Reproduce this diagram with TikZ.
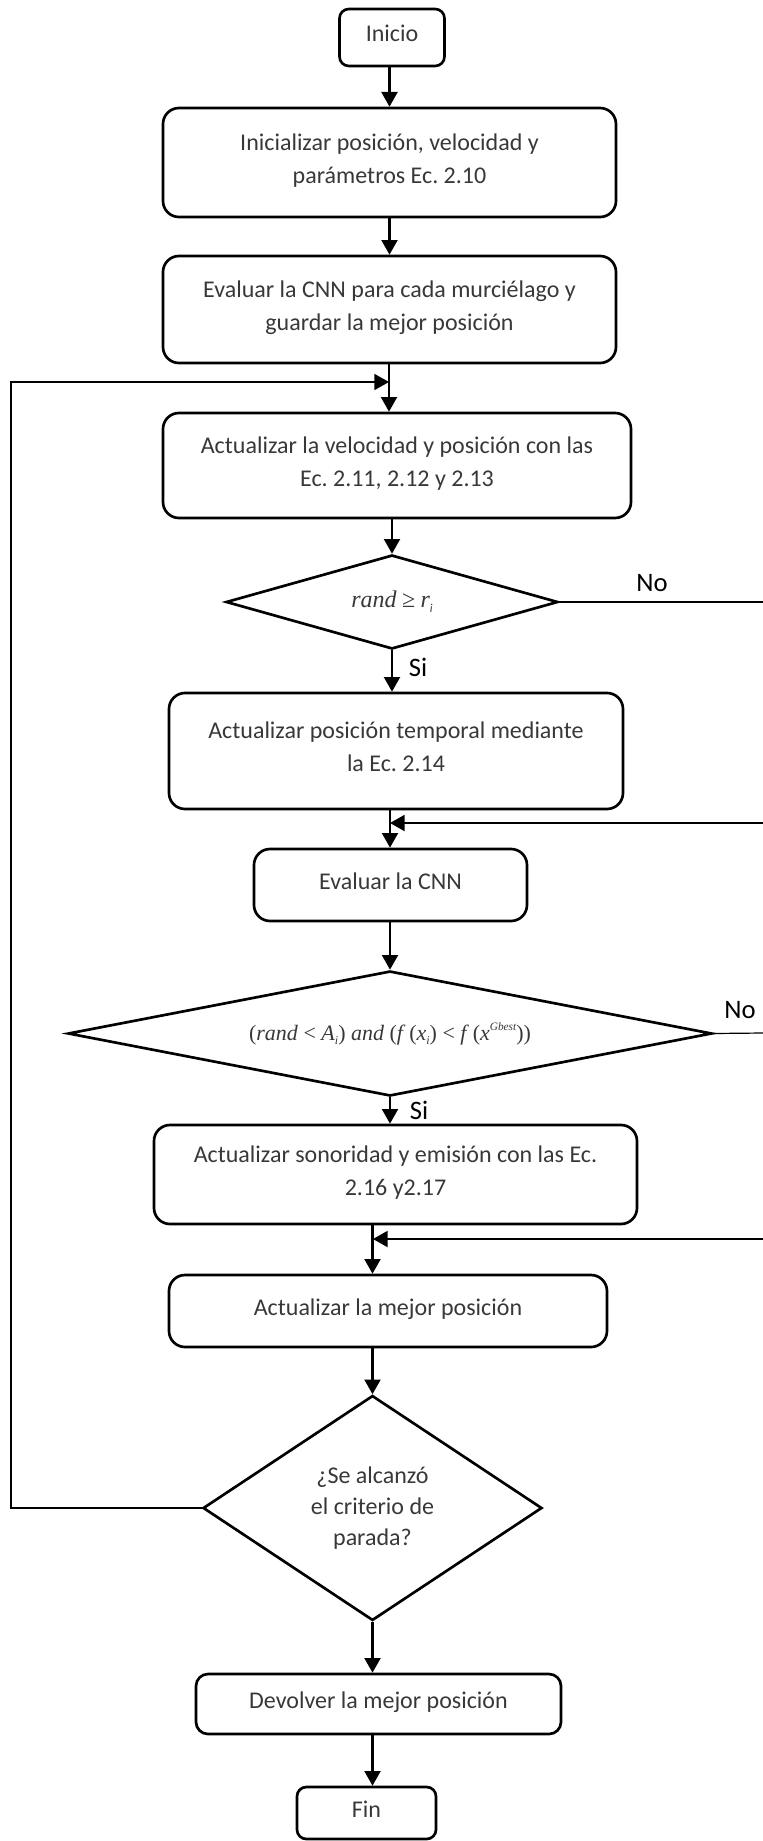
\documentclass[tikz,border=0pt]{standalone}
\usepackage{fontspec}
\setmainfont{Carlito}
\newfontfamily\tms{Liberation Serif}
\usetikzlibrary{shapes.geometric,arrows.meta}
\frenchspacing
% small lowered / raised italic indices for the conditions
\newcommand{\lowi}[1]{\raisebox{-0.45ex}{\fontsize{9}{9}\selectfont\itshape #1}}
\newcommand{\highg}[1]{\raisebox{1.0ex}{\fontsize{8.5}{8.5}\selectfont\itshape #1}}
\begin{document}
\begin{tikzpicture}[x=0.75pt,y=-0.75pt,
  sz/.style 2 args={minimum width=#1*0.75pt,minimum height=#2*0.75pt},
  proc/.style={draw=black,line width=2pt,rounded corners=12pt,inner sep=0pt,
    align=center,text=black!78,font=\fontsize{18}{24.75}\selectfont,
    execute at end node={\rule[-6pt]{0pt}{6pt}}},
  term/.style={proc,rounded corners=7pt},
  dec/.style={draw=black,line width=2pt,diamond,inner sep=0pt,align=center,
    text=black!78,font=\fontsize{18}{23.5}\selectfont},
  flow/.style={line width=1.6pt,-{Triangle[length=11pt,width=12pt]}},
  back/.style={line width=1.3pt},
  side/.style={line width=0.9pt},
  lbl/.style={font=\fontsize{20}{20}\selectfont,text=black,inner sep=0pt}
]
\useasboundingbox (0,0) rectangle (763,1841);

% process steps
\node[term,sz={105}{57}] (start) at (392,37.5) {Inicio};
\node[proc,sz={453}{109}] (b1) at (389.5,162.5) {Inicializar posición, velocidad y\\parámetros Ec. 2.10};
\node[proc,sz={453}{107}] (b2) at (389.5,309.5) {Evaluar la CNN para cada murciélago y\\guardar la mejor posición};
\node[proc,sz={468}{105}] (b3) at (397,465.5) {Actualizar la velocidad y posición con las\\Ec. 2.11, 2.12 y 2.13};
\node[dec,sz={332}{94},aspect=3.5] (d1) at (392,602) {{\tms\itshape rand} {\tms ≥} {\tms\itshape r}\lowi{i}};
\node[proc,sz={454}{116}] (b4) at (396,751) {Actualizar posición temporal mediante\\la Ec. 2.14};
\node[proc,sz={273}{72}] (b5) at (390.5,885) {Evaluar la CNN};
\node[dec,sz={644}{125},aspect=5.2,font=\fontsize{16.5}{18}\selectfont] (d2) at (390,1033.5)
  {\tms (\textit{rand} < \textit{A}\lowi{i}) \textit{and} (\textit{f}\,(\textit{x}\lowi{i}) < \textit{f}\,(\textit{x}\highg{Gbest}))};
\node[proc,sz={483}{99}] (b6) at (395.5,1174.5) {Actualizar sonoridad y emisión con las Ec.\\2.16 y2.17};
\node[proc,sz={438}{72}] (b7) at (388,1311) {Actualizar la mejor posición};
\node[dec,sz={339}{225},aspect=1.5] (d3) at (372.5,1508) {¿Se alcanzó\\el criterio de\\parada?};
\node[proc,sz={365}{60},rounded corners=9pt] (b8) at (378.5,1704) {Devolver la mejor posición};
\node[term,sz={139}{52}] (fin) at (366.5,1813) {Fin};

% junctions and edge points
\coordinate (j1) at (389,382);
\coordinate (r1) at (763,602);
\coordinate (r2) at (763,823);
\coordinate (j2) at (390,823);
\coordinate (r3) at (763,1033);
\coordinate (r4) at (763,1239);
\coordinate (j4) at (373,1239);

% main flow
\draw[flow] (start.south -| b1.north) -- (b1.north);
\draw[flow] (b1.south) -- (b2.north);
\draw[flow] (b2.south -| j1) -- (b3.north -| j1);
\draw[flow] (b3.south -| d1.north) -- (d1.north);
\draw[flow] (d1.south) -- (b4.north -| d1.south);
\draw[flow] (b4.south -| j2) -- (b5.north -| j2);
\draw[flow] (b5.south -| d2.north) -- (d2.north);
\draw[flow] (d2.south) -- (b6.north -| d2.south);
\draw[flow] (b6.south -| d3.north) -- (b7.north -| d3.north);
\draw[flow] (b7.south -| d3.north) -- (d3.north);
\draw[flow] (d3.south) -- (b8.north -| d3.south);
\draw[flow] (b8.south -| d3.south) -- (fin.north -| d3.south);

% branches
\draw[side] (d1.east) -- (r1);
\draw[side] (d2.east) -- (r3);
\draw[flow] (r2) -- (j2);
\draw[flow] (r4) -- (j4);
\draw[back,-{Triangle[length=11pt,width=12pt]}] (d3.west) -- ++(-191,0) |- (j1);

% branch labels
\node[lbl] (no1) at (652,583) {No};
\node[lbl] (si1) at (418,667) {Si};
\node[lbl] (no2) at (740,1010) {No};
\node[lbl] (si2) at (419,1110) {Si};
\end{tikzpicture}
\end{document}
